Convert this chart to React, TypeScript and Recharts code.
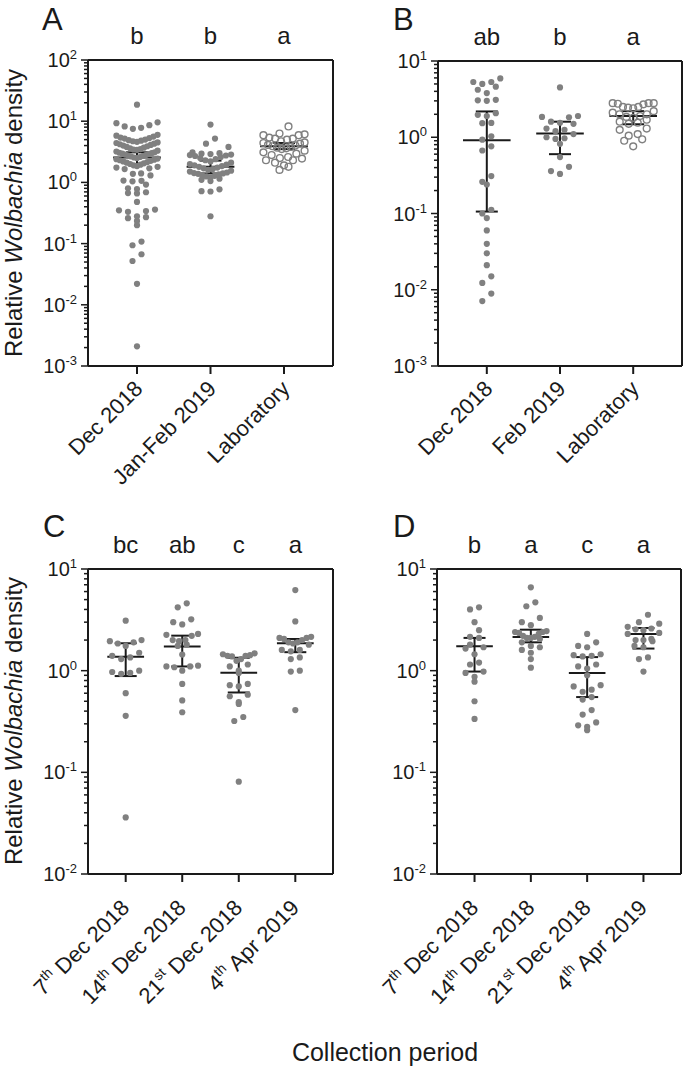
import React from 'react';
import { ErrorBar, ReferenceLine, Scatter, ScatterChart, XAxis, YAxis } from 'recharts';

const FONT = '"Liberation Sans", Arial, Helvetica, sans-serif';
const DOT = '#808080';
const INK = '#1a1a1a';

// Panel A
const aLabels = [['Dec 2018'], ['Jan-Feb 2019'], ['Laboratory']];
const aLetters = ['b', 'b', 'a'];
const aDec2018 = [
  18.6, 9.6, 9.3, 8.6, 8.2, 7.8, 7.5, 6.0, 5.8, 5.6, 5.4, 5.3, 5.2, 5.0, 4.9, 4.8, 4.7, 4.6, 4.5, 4.4,
  4.3, 4.2, 4.1, 4.0, 3.9, 3.8, 3.7, 3.6, 3.5, 3.45, 3.4, 3.3, 3.2, 3.1, 3.05, 3.0, 2.95, 2.9, 2.85,
  2.8, 2.75, 2.7, 2.65, 2.6, 2.55, 2.5, 2.45, 2.4, 2.35, 2.3, 2.25, 2.2, 2.15, 2.1, 2.05, 2.0, 1.95,
  1.9, 1.85, 1.8, 1.75, 1.7, 1.65, 1.4, 1.38, 1.3, 1.07, 1.04, 1.06, 0.92, 0.8, 0.78, 0.69, 0.66, 0.67,
  0.48, 0.36, 0.34, 0.33, 0.35, 0.28, 0.27, 0.26, 0.235, 0.2, 0.108, 0.094, 0.067, 0.052, 0.022, 0.0021,
];
const aJanFeb2019 = [
  8.8, 5.2, 4.3, 3.8, 3.1, 3.0, 2.95, 2.9, 2.85, 2.8, 2.75, 2.7, 2.6, 2.5, 2.4, 2.3, 2.2, 2.1, 2.0, 1.95,
  1.9, 1.85, 1.8, 1.75, 1.7, 1.65, 1.6, 1.55, 1.5, 1.45, 1.42, 1.4, 1.38, 1.35, 1.3, 1.28, 1.25, 1.2,
  1.15, 1.1, 1.05, 0.77, 0.72, 0.71, 0.28,
];
const aLaboratory = [
  8.2, 6.3, 6.1, 5.9, 5.9, 5.4, 5.2, 5.2, 5.0, 4.7, 4.5, 4.4, 4.3, 4.1, 4.0, 3.9, 3.8, 3.7, 3.6, 3.5,
  3.3, 3.1, 2.95, 2.8, 2.6, 2.5, 2.45, 2.3, 2.3, 2.1, 1.9, 1.8, 1.6,
];
const aMedian = [2.55, 1.8, 3.9];
const aLow = [2.0, 1.4, 3.5];
const aHigh = [3.1, 2.27, 4.4];

// Panel B
const bLabels = [['Dec 2018'], ['Feb 2019'], ['Laboratory']];
const bLetters = ['ab', 'b', 'a'];
const bDec2018 = [
  5.9, 5.3, 5.3, 5.0, 4.6, 4.2, 3.8, 3.1, 3.05, 3.0, 2.07, 1.97, 1.9, 1.54, 1.53, 1.03, 0.93, 0.76,
  0.67, 0.31, 0.26, 0.24, 0.112, 0.1, 0.087, 0.06, 0.04, 0.03, 0.021, 0.015, 0.0123, 0.0089, 0.0071,
];
const bFeb2019 = [4.5, 1.9, 1.85, 1.83, 1.6, 1.55, 1.5, 1.3, 1.25, 1.2, 1.1, 1.0, 0.97, 0.95, 0.82, 0.55, 0.41, 0.36, 0.33];
const bLaboratory = [
  2.8, 2.8, 2.75, 2.7, 2.8, 2.5, 2.45, 2.5, 2.4, 2.2, 2.1, 2.0, 2.0, 1.9, 1.85, 1.8, 1.7, 1.6, 1.55,
  1.5, 1.3, 1.25, 1.1, 1.05, 0.94, 0.9, 0.76,
];
const bMedian = [0.91, 1.12, 1.9];
const bLow = [0.106, 0.6, 1.48];
const bHigh = [2.18, 1.6, 2.2];

// Panels C and D share the weekly collection dates
const weekLabels = [
  ['7', 'th', ' Dec 2018'],
  ['14', 'th', ' Dec 2018'],
  ['21', 'st', ' Dec 2018'],
  ['4', 'th', ' Apr 2019'],
];

const cLetters = ['bc', 'ab', 'c', 'a'];
const cDec07 = [3.1, 2.0, 1.95, 1.9, 1.85, 1.75, 1.5, 1.4, 1.35, 1.3, 1.0, 0.97, 0.95, 0.93, 0.6, 0.36, 0.036];
const cDec14 = [4.6, 4.2, 3.2, 3.0, 2.85, 2.3, 2.25, 2.2, 2.0, 2.0, 1.95, 1.8, 1.75, 1.44, 1.12, 1.1, 1.1, 1.08, 1.0, 0.74, 0.51, 0.39];
const cDec21 = [1.48, 1.45, 1.42, 1.4, 1.4, 1.38, 1.3, 1.25, 1.15, 1.1, 1.0, 0.95, 0.74, 0.72, 0.7, 0.58, 0.56, 0.49, 0.47, 0.35, 0.32, 0.081];
const cApr04 = [6.2, 3.05, 2.15, 2.1, 2.1, 2.05, 2.0, 1.9, 1.85, 1.9, 1.8, 1.6, 1.55, 1.6, 1.35, 1.3, 1.0, 0.98, 0.41];
const cMedian = [1.37, 1.73, 0.955, 1.86];
const cLow = [0.885, 1.1, 0.61, 1.52];
const cHigh = [1.86, 2.21, 1.34, 2.05];

const dLetters = ['b', 'a', 'c', 'a'];
const dDec07 = [4.2, 4.0, 3.0, 2.5, 2.15, 2.1, 1.8, 1.7, 1.65, 1.45, 1.2, 1.15, 0.98, 0.95, 0.87, 0.78, 0.5, 0.335];
const dDec14 = [6.6, 4.7, 4.3, 3.3, 3.0, 2.8, 2.45, 2.4, 2.35, 2.3, 2.4, 2.2, 2.15, 2.1, 2.1, 2.05, 1.9, 1.75, 1.7, 1.6, 1.5, 1.3, 1.07];
const dDec21 = [2.3, 1.9, 1.75, 1.7, 1.45, 1.42, 1.4, 1.38, 1.15, 1.1, 1.05, 0.9, 0.72, 0.7, 0.65, 0.62, 0.55, 0.52, 0.41, 0.37, 0.31, 0.29, 0.28, 0.26];
const dApr04 = [3.55, 3.0, 2.9, 2.7, 2.6, 2.55, 2.5, 2.35, 2.3, 2.0, 2.05, 2.0, 1.95, 1.75, 1.7, 1.35, 1.3, 0.98];
const dMedian = [1.74, 2.14, 0.95, 2.29];
const dLow = [0.98, 1.9, 0.55, 1.65];
const dHigh = [2.1, 2.53, 1.36, 2.63];

const logTicks = (min: number, max: number) => {
  const out: number[] = [];
  for (let e = Math.round(Math.log10(min)); e < Math.round(Math.log10(max)); e++) {
    for (let m = 1; m < 10; m++) out.push(Number((m * Math.pow(10, e)).toPrecision(3)));
  }
  out.push(max);
  return out;
};

// Prism-style scatter: dots that sit at about the same height share a row,
// spread evenly sideways, lowest value in the middle (gives the little "smiles")
function dotRows(values: number[], cat: number, yPx: (v: number) => number, unitPx: number) {
  const binH = 7.5;
  const step = 9;
  const maxSpan = 0.56 * unitPx;
  const pts = [...values].sort((a, b) => b - a).map((v) => ({ v, y: yPx(v) }));
  const out: { x: number; y: number }[] = [];
  let i = 0;
  while (i < pts.length) {
    const start = pts[i].y;
    let j = i;
    while (j < pts.length && pts[j].y - start < binH) j++;
    const bin = pts.slice(i, j).sort((a, b) => a.v - b.v);
    const k = bin.length;
    const s = k > 1 ? Math.min(step, maxSpan / (k - 1)) : 0;
    const slots = Array.from({ length: k }, (_, m) => (m - (k - 1) / 2) * s).sort(
      (a, b) => Math.abs(a) - Math.abs(b) || a - b,
    );
    bin.forEach((pt, m) => out.push({ x: cat + slots[m] / unitPx, y: pt.v }));
    i = j;
  }
  return out;
}

function LogTick({ x, y, payload }: any) {
  const e = Math.log10(payload.value);
  const major = Math.abs(e - Math.round(e)) < 1e-6;
  return (
    <g>
      <line x1={x} x2={x - (major ? 7 : 4)} y1={y} y2={y} stroke={INK} strokeWidth={1.5} />
      {major ? (
        <text x={x - 11} y={y + 7} textAnchor="end" fontSize={20} fill={INK} fontFamily={FONT}>
          10<tspan fontSize={13} dy={-8}>{Math.round(e)}</tspan>
        </text>
      ) : null}
    </g>
  );
}

interface PanelProps {
  left: number;
  top: number;
  width: number;
  height: number;
  axisWidth: number;
  marginRight: number;
  plotHeight: number;
  yMin: number;
  yMax: number;
  labels: string[][];
  letters: string[];
  groups: number[][];
  hollow: boolean[];
  medians: number[];
  lows: number[];
  highs: number[];
}

function Panel(p: PanelProps) {
  const n = p.labels.length;
  const domain: [number, number] = [1 / 3, n + 2 / 3];
  const catTicks = p.labels.map((_, i) => i + 1);
  const plotWidth = p.width - p.axisWidth - p.marginRight;
  const unitPx = plotWidth / (domain[1] - domain[0]);
  const span = Math.log10(p.yMax) - Math.log10(p.yMin);
  const yPx = (v: number) => (p.plotHeight * (Math.log10(p.yMax) - Math.log10(v))) / span;
  const summary = p.medians.map((m, i) => ({
    x: i + 1,
    y: m,
    ex: 0.325,
    ey: [m - p.lows[i], p.highs[i] - m],
  }));

  const CatTick = ({ x, y, payload }: any) => {
    const parts = p.labels[payload.value - 1] || [''];
    const sup = parts.length > 1;
    const tx = x + (sup ? 5 : 7);
    const ty = y + (sup ? 35 : 24);
    return (
      <g>
        <line x1={x} x2={x} y1={y} y2={y + 8} stroke={INK} strokeWidth={2} />
        <text
          transform={`translate(${tx},${ty}) rotate(-45)`}
          textAnchor="end"
          fontSize={22}
          fill={INK}
          fontFamily={FONT}
          style={{ whiteSpace: 'pre' }}
        >
          {parts[0]}
          {sup ? (
            <tspan fontSize={14} dy={-9}>
              {parts[1]}
            </tspan>
          ) : null}
          {parts[2] ? <tspan dy={9}>{parts[2]}</tspan> : null}
        </text>
      </g>
    );
  };

  const LetterTick = ({ x, y, payload }: any) => (
    <text x={x} y={y - 16} textAnchor="middle" fontSize={24} fill={INK} fontFamily={FONT}>
      {p.letters[payload.value - 1]}
    </text>
  );

  return (
    <div style={{ position: 'absolute', left: p.left, top: p.top }}>
      <ScatterChart
        width={p.width}
        height={p.height}
        margin={{ top: 0, right: p.marginRight, bottom: 0, left: 0 }}
      >
        <XAxis
          xAxisId="top"
          orientation="top"
          type="number"
          dataKey="x"
          domain={domain}
          allowDataOverflow
          ticks={catTicks}
          interval={0}
          height={60}
          tickSize={0}
          tickMargin={0}
          tickLine={false}
          axisLine={{ stroke: INK, strokeWidth: 2 }}
          tick={<LetterTick />}
        />
        <XAxis
          type="number"
          dataKey="x"
          domain={domain}
          allowDataOverflow
          ticks={catTicks}
          interval={0}
          height={p.height - 60 - p.plotHeight}
          tickSize={0}
          tickMargin={0}
          tickLine={false}
          axisLine={{ stroke: INK, strokeWidth: 2 }}
          tick={<CatTick />}
        />
        <YAxis
          type="number"
          dataKey="y"
          scale="log"
          domain={[p.yMin, p.yMax]}
          allowDataOverflow
          ticks={logTicks(p.yMin, p.yMax)}
          interval={0}
          width={p.axisWidth}
          tickSize={0}
          tickMargin={0}
          tickLine={false}
          axisLine={{ stroke: INK, strokeWidth: 2 }}
          tick={<LogTick />}
        />
        <ReferenceLine x={domain[1]} stroke={INK} strokeWidth={2} />
        {p.groups.map((g, i) => (
          <Scatter
            key={i}
            data={dotRows(g, i + 1, yPx, unitPx)}
            isAnimationActive={false}
            shape={(s: any) =>
              p.hollow[i] ? (
                <circle cx={s.cx} cy={s.cy} r={3.4} fill="none" stroke={DOT} strokeWidth={1.4} />
              ) : (
                <circle cx={s.cx} cy={s.cy} r={3.1} fill={DOT} />
              )
            }
          />
        ))}
        <Scatter data={summary} isAnimationActive={false} shape={() => <g />}>
          <ErrorBar dataKey="ex" direction="x" width={0} stroke={INK} strokeWidth={2} isAnimationActive={false} />
          <ErrorBar dataKey="ey" direction="y" width={11} stroke={INK} strokeWidth={2} isAnimationActive={false} />
        </Scatter>
      </ScatterChart>
    </div>
  );
}

function YTitle({ cy }: { cy: number }) {
  return (
    <text transform={`translate(22,${cy}) rotate(-90)`} textAnchor="middle" fontSize={24} fill={INK} fontFamily={FONT}>
      Relative <tspan fontStyle="italic">Wolbachia</tspan> density
    </text>
  );
}

export default function App() {
  return (
    <div
      style={{
        position: 'absolute',
        left: 0,
        top: 0,
        width: 684,
        height: 1067,
        overflow: 'hidden',
        background: '#fff',
        fontFamily: FONT,
      }}
    >
      <Panel
        left={0}
        top={0}
        width={342}
        height={510}
        axisWidth={88}
        marginRight={9}
        plotHeight={306}
        yMin={0.001}
        yMax={100}
        labels={aLabels}
        letters={aLetters}
        groups={[aDec2018, aJanFeb2019, aLaboratory]}
        hollow={[false, false, true]}
        medians={aMedian}
        lows={aLow}
        highs={aHigh}
      />
      <Panel
        left={342}
        top={1}
        width={342}
        height={509}
        axisWidth={96}
        marginRight={2}
        plotHeight={305}
        yMin={0.001}
        yMax={10}
        labels={bLabels}
        letters={bLetters}
        groups={[bDec2018, bFeb2019, bLaboratory]}
        hollow={[false, false, true]}
        medians={bMedian}
        lows={bLow}
        highs={bHigh}
      />
      <Panel
        left={0}
        top={509}
        width={342}
        height={520}
        axisWidth={88}
        marginRight={9}
        plotHeight={305}
        yMin={0.01}
        yMax={10}
        labels={weekLabels}
        letters={cLetters}
        groups={[cDec07, cDec14, cDec21, cApr04]}
        hollow={[false, false, false, false]}
        medians={cMedian}
        lows={cLow}
        highs={cHigh}
      />
      <Panel
        left={342}
        top={509}
        width={342}
        height={520}
        axisWidth={95}
        marginRight={3}
        plotHeight={305}
        yMin={0.01}
        yMax={10}
        labels={weekLabels}
        letters={dLetters}
        groups={[dDec07, dDec14, dDec21, dApr04]}
        hollow={[false, false, false, false]}
        medians={dMedian}
        lows={dLow}
        highs={dHigh}
      />
      <svg
        width={684}
        height={1067}
        style={{ position: 'absolute', left: 0, top: 0, pointerEvents: 'none' }}
      >
        <g fontFamily={FONT} fill={INK}>
          <text x={42} y={30} fontSize={31}>A</text>
          <text x={393} y={30} fontSize={31}>B</text>
          <text x={43} y={537} fontSize={31}>C</text>
          <text x={393} y={537} fontSize={31}>D</text>
          <YTitle cy={213} />
          <YTitle cy={721} />
          <text x={385} y={1061} textAnchor="middle" fontSize={25}>
            Collection period
          </text>
        </g>
      </svg>
    </div>
  );
}
